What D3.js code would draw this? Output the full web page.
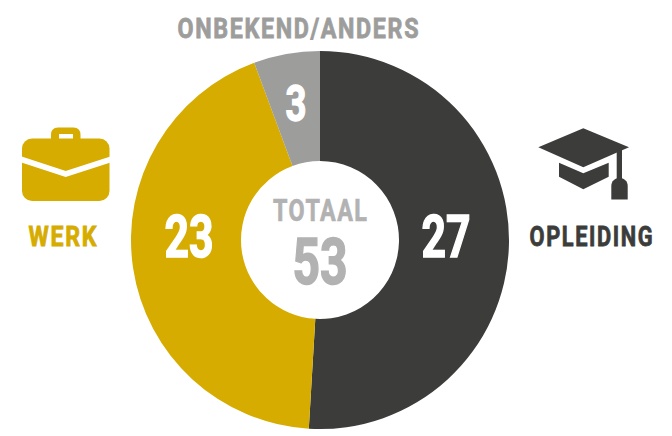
<!DOCTYPE html>
<html>
<head>
<meta charset="utf-8">
<script src="https://cdn.jsdelivr.net/npm/d3@7"></script>
<style>
  html, body { margin: 0; padding: 0; background: #fff; }
  svg { display: block; }
  text { font-family: "Liberation Sans Narrow", "Roboto", sans-serif; font-weight: 700; text-anchor: middle; stroke-linejoin: miter; }
</style>
</head>
<body>
<div id="chart"></div>
<script>
// Data
const categories = ["OPLEIDING", "WERK", "ONBEKEND/ANDERS"];
const values = [27, 23, 3];
const totalLabel = "TOTAAL";
const colors = ["#3c3c3b", "#d6ac00", "#9d9d9c"];

const width = 672, height = 436;
const cx = 320, cy = 240, outerR = 189, innerR = 79;

const svg = d3.select("#chart").append("svg")
    .attr("width", width)
    .attr("height", height);

// Donut
const pie = d3.pie().sort(null)(values);
const arc = d3.arc().innerRadius(innerR).outerRadius(outerR);
const g = svg.append("g").attr("transform", "translate(" + cx + "," + cy + ")");

g.selectAll("path")
    .data(pie)
    .enter().append("path")
    .attr("d", arc)
    .attr("fill", (d, i) => colors[i]);

// Squeezes a label into the box it has in the picture, stroke makes it as heavy as the original
function label(parent, str, x, baseline, size, w, fill, weight, spacing) {
    const gap = spacing || 0;
    const t = parent.append("text")
        .attr("font-size", size)
        .attr("letter-spacing", gap)
        .attr("fill", fill)
        .attr("stroke", fill)
        .attr("stroke-width", weight)
        .text(str);
    const k = w / (t.node().getComputedTextLength() - gap);
    t.attr("transform", "translate(" + (x + gap * k / 2) + "," + baseline + ") scale(" + k + ",1)");
    return t;
}

// Values on the slices
label(svg, values[0], 446, 257, 60, 49, "#fff", 1.6);
label(svg, values[1], 189, 257, 60, 49, "#fff", 1.6);
label(svg, values[2], 296, 121, 50, 21, "#fff", 1.4);

// Centre
label(svg, totalLabel, 320, 220.5, 32, 94, "#b2b2b2", 0.7, 2);
label(svg, d3.sum(values), 320, 284, 64, 55, "#b2b2b2", 1.6);

// Category labels
label(svg, categories[0], 591, 245.5, 27, 123, colors[0], 0.8, 2);
label(svg, categories[1], 62.5, 245.5, 27, 68, colors[1], 0.8, 2);
label(svg, categories[2], 298, 37.5, 28, 241, colors[2], 0.8, 2);

// Briefcase icon
const werk = svg.append("g").attr("fill", colors[1]);
werk.append("path")
    .attr("d", "M51 139V135Q51 127.5 58 127.5H73.5Q80.5 127.5 80.5 135V139H73V134H59V139Z");
werk.append("rect")
    .attr("x", 22).attr("y", 138.5)
    .attr("width", 87.5).attr("height", 62.5)
    .attr("rx", 10);
werk.append("path")
    .attr("d", "M20 159L65.7 174L112 159")
    .attr("fill", "none")
    .attr("stroke", "#fff")
    .attr("stroke-width", 5.6);

// Graduation cap icon
const opl = svg.append("g").attr("fill", colors[0]);
opl.append("path").attr("d", "M538.3 147.3L583.3 128.3L629 147.3L583.3 167.3Z");
opl.append("path").attr("d", "M559 162.7L583.3 173.3L608.7 162.7V176.7L583.3 189.3L559 176.7Z");
opl.append("path").attr("d", "M616.7 152L622 149.5V180H616.7Z");
opl.append("path").attr("d", "M611.3 199.5V186C611.3 181 615 178 619.5 178C624 178 627.7 181 627.7 186V199.5Z");
</script>
</body>
</html>
